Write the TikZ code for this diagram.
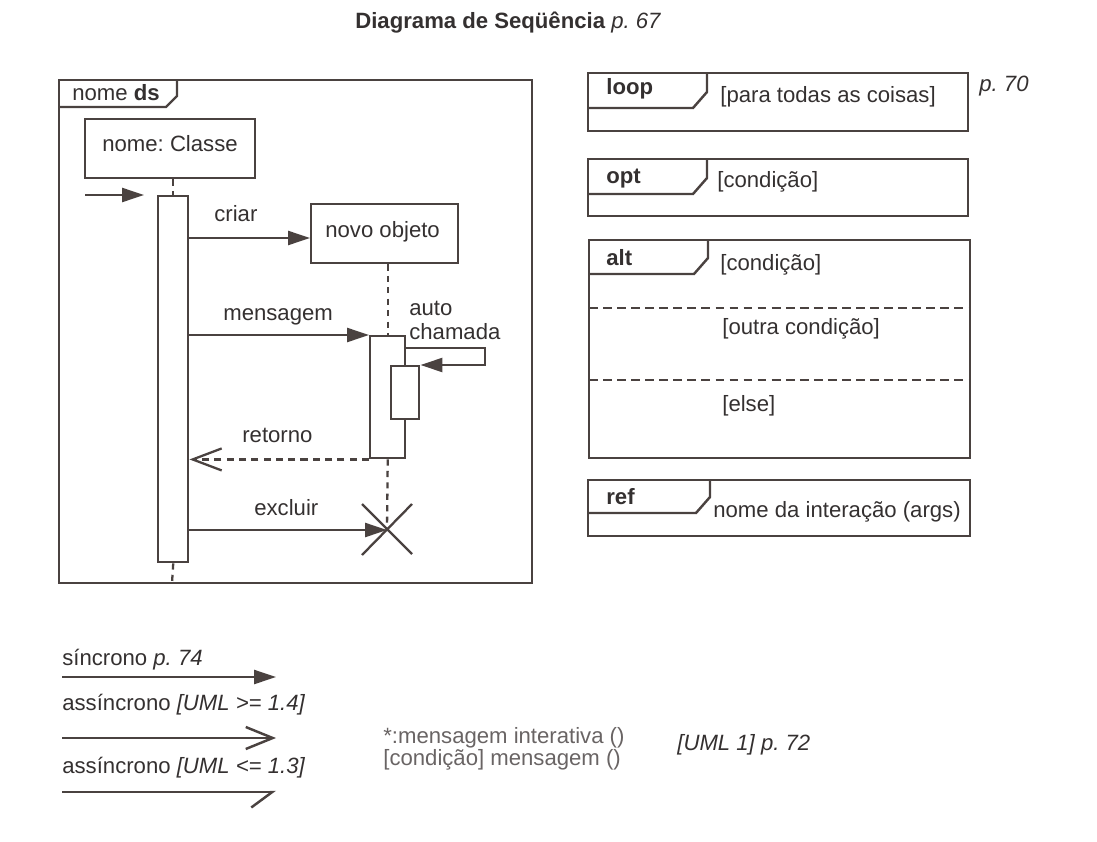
\documentclass[tikz,border=0pt]{standalone}
\usepackage{fontspec}
\setmainfont{Liberation Sans}
\usetikzlibrary{arrows.meta}
\definecolor{ink}{RGB}{74,66,64}
\definecolor{txt}{RGB}{52,48,48}
\definecolor{pale}{RGB}{105,100,100}
\frenchspacing

\begin{document}
\begin{tikzpicture}[x=0.02cm, y=-0.02cm,
  lbl/.style={font=\fontsize{12.6}{15}\selectfont, text=txt, inner sep=0pt, anchor=base west},
  objbox/.style={draw=ink, line width=1.4pt, fill=white, inner sep=0pt, anchor=north west},
  bar/.style={draw=ink, line width=1.4pt, fill=white, inner sep=0pt, anchor=north west},
  frame/.style={draw=ink, line width=1.4pt},
  life/.style={draw=ink, line width=1.3pt, dash pattern=on 3.5pt off 3pt},
  msg/.style={draw=ink, line width=1.4pt, -{Triangle[length=0.44cm, width=0.28cm]}},
  ret/.style={draw=ink, line width=1.3pt, dash pattern=on 4pt off 3pt, -{Straight Barb[length=0.58cm, width=0.44cm]}},
  sep/.style={draw=ink, line width=1.2pt, dash pattern=on 5pt off 3pt}]

\useasboundingbox (0,0) rectangle (1097,841);

% title
\node[lbl, font=\fontsize{12.6}{15}\selectfont\bfseries] (title) at (355,29) {Diagrama de Seqüência \mdseries\itshape p. 67};

% sequence frame
\draw[frame] (59,80) rectangle (532,583);
\draw[frame] (59,107) -- (166,107) -- (177,96) -- (177,80);
\node[lbl] (dsname) at (72,101) {nome \textbf{ds}};

% objects and activations
\node[objbox, minimum width=3.4cm, minimum height=1.18cm] (classe) at (84,118) {};
\node[lbl] at (102,152) {nome: Classe};
\node[objbox, minimum width=2.94cm, minimum height=1.18cm] (novo) at (310,203) {};
\node[lbl] at (325,237) {novo objeto};
\node[bar, minimum width=0.6cm, minimum height=7.32cm] (barA) at (157,195) {};
\node[bar, minimum width=0.7cm, minimum height=2.44cm] (barB) at (369,335) {};

% lifelines
\coordinate (endA) at (172,583);
\coordinate (kill) at (387,530);
\draw[life] (classe.south -| barA.north) -- (barA.north);
\draw[life] (barA.south) -- (endA);
\draw[life] (barB.north |- novo.south) -- (barB.north);
\draw[life] (barB.south) -- (kill);

% messages
\coordinate (found) at (85,195);
\coordinate (foundtip) at (144,195);
\draw[msg] (found) -- (foundtip);
\draw[msg] (barA.east |- 0,238) -- (novo.west |- 0,238);
\node[lbl] at (214,221) {criar};
\draw[msg] (barA.east |- barB.north west) -- (barB.north west);
\node[lbl] at (223,320) {mensagem};

% self call
\coordinate (selfR) at (485,348);
\node[lbl] at (409,315) {auto};
\node[lbl] at (409,339) {chamada};
\node[bar, minimum width=0.56cm, minimum height=1.06cm] (barC) at (390,365) {};
\draw[msg] (barB.east |- selfR) -- (selfR) |- (barC.north east);

\draw[ret] (barB.south west) -- (barA.east |- barB.south west);
\node[lbl] at (242,442) {retorno};
\draw[msg] (barA.east |- kill) -- (kill);
\node[lbl] at (254,515) {excluir};
\draw[draw=ink, line width=1.3pt] (kill) +(-25,-26) -- +(25,24) (kill) +(25,-26) -- +(-25,25);

% combined fragments
\draw[frame] (588,73) rectangle (968,131);
\draw[frame] (588,108) -- (693,108) -- (707,92) -- (707,73);
\node[lbl] (loop) at (606,95) {\textbf{loop}};
\node[lbl] at (720,103) {[para todas as coisas]};
\node[lbl] at (979,92) {\textit{p. 70}};

\draw[frame] (588,159) rectangle (968,216);
\draw[frame] (588,194) -- (693,194) -- (707,178) -- (707,159);
\node[lbl] (opt) at (606,183) {\textbf{opt}};
\node[lbl] at (717,187) {[condição]};

\draw[frame] (589,240) rectangle (970,458);
\draw[frame] (589,274) -- (694,274) -- (708,258) -- (708,240);
\node[lbl] (alt) at (606,265) {\textbf{alt}};
\node[lbl] at (720,270) {[condição]};
\draw[sep] (589,308) -- (970,308);
\node[lbl] at (722,334) {[outra condição]};
\draw[sep] (589,380) -- (970,380);
\node[lbl] at (722,411) {[else]};

\draw[frame] (588,480) rectangle (970,536);
\draw[frame] (588,513) -- (696,513) -- (710,497) -- (710,480);
\node[lbl] (ref) at (606,504) {\textbf{ref}};
\node[lbl] at (713,517) {nome da interação (args)};

% legend
\coordinate (l1) at (62,677);  \coordinate (r1) at (276,677);
\coordinate (l2) at (62,738);  \coordinate (r2) at (276,738);
\coordinate (l3) at (62,792);  \coordinate (r3) at (276,792);
\node[lbl] at (62,665) {síncrono \textit{p. 74}};
\draw[msg] (l1) -- (r1);
\node[lbl] at (62,710) {assíncrono \textit{[UML >= 1.4]}};
\draw[draw=ink, line width=1.4pt, -{Straight Barb[length=0.54cm, width=0.44cm]}] (l2) -- (r2);
\node[lbl] at (62,773) {assíncrono \textit{[UML <= 1.3]}};
\draw[draw=ink, line width=1.4pt, -{Straight Barb[harpoon, swap, length=0.42cm, width=0.62cm]}] (l3) -- (r3);

\node[lbl, text=pale] at (383,743) {*:mensagem interativa ()};
\node[lbl, text=pale] at (383,765) {[condição] mensagem ()};
\node[lbl] at (677,750) {\textit{[UML 1] p. 72}};
\end{tikzpicture}
\end{document}
